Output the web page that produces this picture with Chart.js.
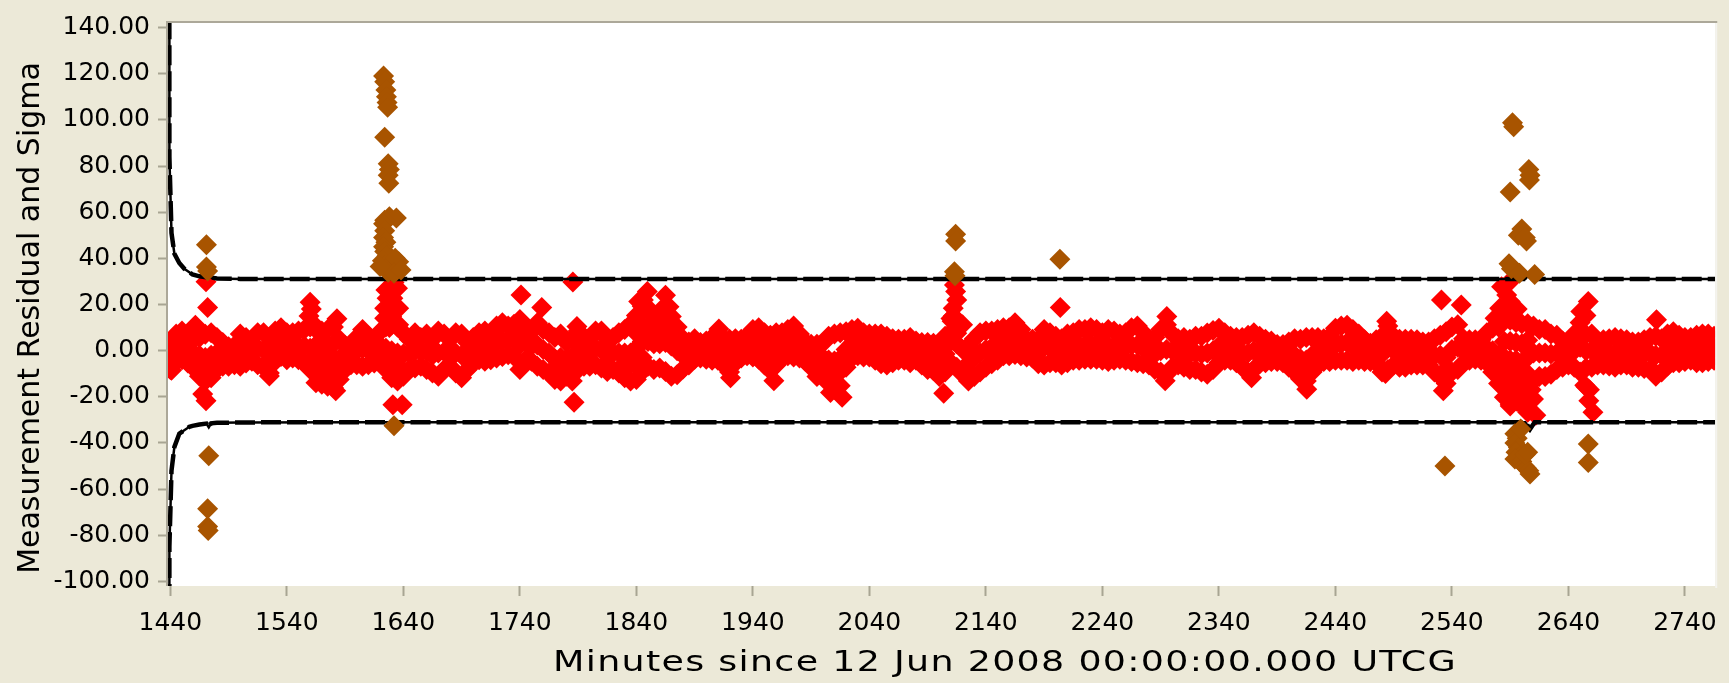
<!DOCTYPE html>
<html>
<head>
<meta charset="utf-8">
<script src="https://cdn.jsdelivr.net/npm/chart.js@4.4.1/dist/chart.umd.min.js"></script>
<style>
html,body{margin:0;padding:0;background:#ECE9D8;overflow:hidden;}
#wrap{position:relative;width:1729px;height:683px;}
</style>
</head>
<body>
<div id="wrap"><canvas id="c" width="1729" height="683"></canvas></div>
<script>
// ---------- axis ticks ----------
const xTickValues = [1440,1540,1640,1740,1840,1940,2040,2140,2240,2340,2440,2540,2640,2740];
const yTickValues = [-100,-80,-60,-40,-20,0,20,40,60,80,100,120,140];
const xTitle = "Minutes since 12 Jun 2008 00:00:00.000 UTCG";
const yTitle = "Measurement Residual and Sigma";

// ---------- residual band (red), read per 5-minute column ----------
const bandT = [
1440,1445,1450,1455,1460,1465,1470,1475,1480,1485,
1490,1495,1500,1505,1510,1515,1520,1525,1530,1535,
1540,1545,1550,1555,1560,1565,1570,1575,1580,1585,
1590,1595,1600,1605,1610,1615,1620,1625,1630,1635,
1640,1645,1650,1655,1660,1665,1670,1675,1680,1685,
1690,1695,1700,1705,1710,1715,1720,1725,1730,1735,
1740,1745,1750,1755,1760,1765,1770,1775,1780,1785,
1790,1795,1800,1805,1810,1815,1820,1825,1830,1835,
1840,1845,1850,1855,1860,1865,1870,1875,1880,1885,
1890,1895,1900,1905,1910,1915,1920,1925,1930,1935,
1940,1945,1950,1955,1960,1965,1970,1975,1980,1985,
1990,1995,2000,2005,2010,2015,2020,2025,2030,2035,
2040,2045,2050,2055,2060,2065,2070,2075,2080,2085,
2090,2095,2100,2105,2110,2115,2120,2125,2130,2135,
2140,2145,2150,2155,2160,2165,2170,2175,2180,2185,
2190,2195,2200,2205,2210,2215,2220,2225,2230,2235,
2240,2245,2250,2255,2260,2265,2270,2275,2280,2285,
2290,2295,2300,2305,2310,2315,2320,2325,2330,2335,
2340,2345,2350,2355,2360,2365,2370,2375,2380,2385,
2390,2395,2400,2405,2410,2415,2420,2425,2430,2435,
2440,2445,2450,2455,2460,2465,2470,2475,2480,2485,
2490,2495,2500,2505,2510,2515,2520,2525,2530,2535,
2540,2545,2550,2555,2560,2565,2570,2575,2580,2585,
2590,2595,2600,2605,2610,2615,2620,2625,2630,2635,
2640,2645,2650,2655,2660,2665,2670,2675,2680,2685,
2690,2695,2700,2705,2710,2715,2720,2725,2730,2735,
2740,2745,2750,2755,2760,2765];
const bandHi = [
3.5,7.2,8.5,5.7,4.9,5.7,7.1,7.8,5.7,3.5,
1.7,2.1,7.2,5.7,3.5,7.8,7.8,5.7,8.5,9.9,
7.8,7.8,8.5,9.2,10.2,9.2,8.5,9.2,10.2,4.9,
2.2,1.7,5.7,9.2,6.4,4.9,8.2,10.2,11.2,10.2,
7.8,4.9,7.8,5.7,7.2,4.9,8.5,7.2,4.9,7.8,
7.2,3.5,5.7,7.8,8.5,7.2,10.7,12.1,10.7,11.4,
13.5,10.7,8.5,12.1,9.2,7.8,5.7,7.2,3.5,5.2,
8.5,5.7,5.7,8.5,8.5,4.9,5.7,7.8,9.2,11.4,
15.2,19.2,17.2,14.8,13.5,17.7,14.8,10.2,5.2,3.7,
5.2,3.5,4.2,5.7,7.7,4.9,4.9,5.2,4.9,6.2,
9.2,9.9,7.8,6.7,7.8,7.8,9.2,10.7,7.2,3.7,
2.8,2.8,3.2,6.2,7.2,7.8,8.2,9.2,9.7,7.8,
7.2,7.2,7.2,6.2,5.2,4.9,4.9,5.7,4.2,3.5,
3.5,3.2,2.7,6.2,13.9,13.2,11.2,2.1,5.2,7.8,
8.5,8.5,9.2,9.9,9.9,12.1,9.2,4.9,4.9,4.9,
9.2,7.8,6.2,5.2,7.2,7.8,9.2,9.2,9.9,9.2,
7.8,9.2,8.5,7.2,7.8,9.9,10.7,7.8,4.9,5.7,
9.2,11.2,7.2,5.2,5.7,4.9,6.2,6.2,7.7,8.7,
9.7,7.8,6.2,5.7,5.7,6.7,7.8,6.2,4.9,4.2,
2.7,2.7,3.7,5.2,4.9,5.7,5.7,5.7,5.2,6.2,
9.7,10.7,11,9.2,7.2,4.7,3.2,4.7,6.2,10.7,
6.2,4.9,4.9,4.9,4.7,3.7,3.7,5.2,6.7,8.2,
10.2,11.2,5.2,4.7,4.7,4.7,7.8,9.7,10.2,13.2,
13.2,12.2,11.7,11.7,10.7,9.2,9.2,7.2,6.7,4.2,
3.7,7.2,12.2,15.2,7.2,4.2,4.7,5.2,5.7,5.2,
4.7,3.7,3.7,4.7,5.7,6.2,5.2,7.2,8.2,6.7,
5.7,5.7,6.7,7.2,7.2,6.2];
const bandMid = [
-2,1,2,0,-1,-2,-3,-2,-1,-1.5,
-2.5,-2,0,0,-0.5,1,0.5,-2,2,3.5,
2,2.5,2,2,1,-2,-3,-3,-3,-3.5,
-3,-2.5,0,1,0,-0.5,2,1,0,-1,
-1.5,-1.5,0,-0.5,-0.5,-2,-1,-0.5,-1,-1,
-2,-2.5,0,2,2,1.5,3.5,4.5,4.5,4.5,
2.5,3.5,2,2.5,0.5,-1,-3.5,-3,-3.5,-4,
0,-0.5,-0.5,1,0.5,-2,-1,-1,-1,-1,
1,4,4,3,3,3.5,2,0,-2,-1.5,
0.5,0,0.5,0.5,1.5,-0.5,-2,0,1,2,
3,3,0.5,-1,1,2,3.5,4,2,-0.5,
-2,-4,-3,-4,-4.5,-3.5,0.5,3,3.5,2.5,
2,1.5,0.5,0,0,0.5,0.5,0,0,-1.5,
-2,-2.5,-4,-1.5,4,3,0.5,-5.5,-3,-1,
0.5,1.5,2.5,3.5,3.5,5,3.5,1,1,-0.5,
1.5,1,0.5,-0.5,1,2,2.5,2.5,3,2.5,
1.5,2,2,1.5,2,2.5,2.5,1,-0.5,-1.5,
0,0.5,0,-0.5,-0.5,-1.5,-1,-1.5,-1,0,
2,1.5,1,0,-1,-1,0,0,0,0,
-1,-1.5,-2,-2,-3.5,-4,-2,0,0.5,0.5,
2.5,3,3.5,2,1.5,0,-1,-0.5,-1.5,1,
0,-1,-1,-0.5,-1,-1.5,-1.5,-2,-2,-3,
0.5,1.5,0,0.5,0.5,0,1,0,-2,-3,
-4,-4,-5,-3,-1,-1,-1,-1.5,-1,-1.5,
-1.5,0,1.5,0,0,-1,-0.5,-1,-1,-0.5,
-1,-2,-2,-1.5,-1,-2,-2,0,1.5,0.5,
0.5,1,1,1,1,1];
const bandLo = [
-8.2,-4.6,-3.9,-5.4,-7.5,-11.1,-13.2,-11.8,-8.2,-6.8,
-6.8,-6.1,-6.8,-5.4,-4.6,-6.1,-6.8,-9.7,-4.6,-2.5,
-3.9,-3.2,-3.9,-5.4,-8.2,-13.9,-14.6,-15.4,-16.1,-12.5,
-8.2,-6.1,-6.1,-6.8,-6.1,-5.4,-3.9,-8.2,-11.8,-13.2,
-11.1,-8.2,-7.5,-6.8,-8.2,-9.7,-11.1,-8.2,-6.8,-9.7,
-11.8,-8.2,-5.4,-3.9,-4.6,-3.9,-3.2,-2.5,-1.8,-2.5,
-8.2,-3.9,-4.6,-6.8,-8.2,-9.7,-12.5,-13.2,-11.1,-13.2,
-8.2,-6.8,-6.8,-6.1,-7.5,-9,-8.2,-9.7,-11.8,-13.2,
-12.5,-9,-6.8,-8.2,-7.5,-9,-11.1,-10.4,-7.9,-6.2,
-3.7,-3.2,-3.7,-4.2,-4.2,-6.2,-9.2,-5.2,-3.2,-2.2,
-2.7,-3.7,-6.2,-8.6,-6.2,-3.2,-2.2,-2.7,-3.2,-4.6,
-7.2,-11.2,-9.2,-14.2,-16.7,-15.2,-7.2,-3.2,-2.2,-2.7,
-2.7,-4.2,-5.7,-6.2,-5.2,-4.2,-4.2,-5.2,-4.2,-6.2,
-8.2,-8.6,-11.2,-9.2,-5.2,-7.2,-10.2,-13.2,-11.2,-9.2,
-7.2,-5.7,-4.2,-2.2,-2.2,-1.7,-2.2,-2.7,-3.2,-5.7,
-6.2,-5.2,-5.2,-6.2,-5.2,-4.2,-4.2,-3.7,-3.7,-3.7,
-4.2,-4.7,-4.2,-3.7,-4.2,-4.7,-5.2,-5.7,-6.2,-8.2,
-9.2,-10.2,-7.2,-6.2,-7.2,-8.2,-8.2,-9.2,-10.2,-8.2,
-5.2,-4.2,-4.2,-5.2,-7.2,-9.2,-8.2,-5.7,-5.2,-4.7,
-4.7,-5.2,-7.2,-9.2,-12.2,-13.2,-9.2,-6.2,-4.7,-4.7,
-4.2,-4.2,-4.2,-4.7,-4.2,-4.7,-4.7,-5.2,-9.2,-8.2,
-6.2,-7.2,-7.2,-6.2,-6.2,-6.2,-6.2,-9.2,-11.2,-14.2,
-9.2,-8.2,-5.2,-4.2,-3.7,-4.2,-5.2,-9.2,-14.2,-20.2,
-23.2,-21.2,-23.2,-19.2,-13.2,-11.2,-11.2,-10.2,-8.2,-7.2,
-6.2,-7.2,-9.2,-15.7,-7.2,-6.2,-6.2,-6.7,-7.2,-6.2,
-6.2,-7.2,-7.2,-7.7,-8.2,-11.1,-9.2,-6.7,-5.2,-5.2,
-4.7,-4.2,-5.2,-5.2,-4.7,-4.2];

// isolated red residuals, spikes and in-fill points [minute, value]
const redExtra = [
[1441,-8.5],[1461.5,11],[1467.8,-18.8],[1470.6,-21.7],[1470.6,29.9],[1472,18.7],[1525,-11],
[1582,-17.4],[1583,13.8],[1631,-23.4],[1639,-23.4],[1741,24.1],[1758.8,18.7],[1785.5,29.8],
[1789,10.5],[1786.5,-22.4],[1910.8,9.4],[1920.8,-11.7],[1958,-13.1],[2006.6,-18.1],[2016.6,-20.2],
[2103.8,-18.5],[2203.8,18.7],[2295.3,14.8],[2293.9,-13.1],[2368,-11.8],[2415.4,-16.7],[2484,12.7],
[2483,-9.9],[2531,22],[2532.6,-17.4],[2548,19.8],[2650.6,17],[2657,21.3],[2657.5,-21.7],[2661,-26.7],
[2715.6,13.4],[2715,-9.9],
[1560,21],[1561,18],[1559,15],[1562,12],
[1625,26.3],[1635,27],[1626,22.7],[1631,22.7],[1624,18.4],[1636,18.4],[1630,14.8],[1624,14],[1636,11.2],[1628,10],[1632,29.5],
[1842,21.3],[1849.4,25.6],[1865,24],[1853,17],[1862,18],[1868,19],[1846,22],
[2113,28.4],[2114,25.6],[2115,22],[2112,18.4],[2112,15],[2111,12.7],[2116,10],
[2582.6,27.7],[2587,24.1],[2590,21.3],[2581,18.4],[2577,14],[2585,15],[2589,29.5],[2596,18],
[2590,-24],[2596,-22],[2603,-24],[2605,-26.7],[2610,-21],[2608,-17],[2612,-28],[2598,-19],
[2654,-15],[2658,-17],
[1467,-7],[1472,-7.5],[1476,-6.5],
[1565,-8],[1570,-8.5],[1575,-9],[1580,-9.5],[1585,-7.5],[1565,2.5],[1570,2],[1575,2.5],[1580,3],
[1625,-4],[1630,-5.5],[1635,-6],[1740,7],[1772,-7.5],[1782,-8],
[1830,-5.5],[1835,-6],[1840,-6],[1845,-3],
[1840,7.5],[1845,11],[1850,10],[1855,8],[1860,7.5],[1865,9.5],[1870,7.5],
[1995,-7],[2005,-8.5],[2010,-10],[2015,-9],[2110,8],[2115,7.5],[2412,-8],[2535,-8],
[2580,-8],[2585,-9],[2585,-14],[2590,-10],[2590,-16],[2595,-9],[2595,-14.5],[2600,-11],[2600,-16.5],[2605,-10],[2605,-13],
[2585,4],[2590,4],[2595,3.5],[2600,3],[2605,4.5],
[2652,6],[2655,7],[2655,-7.5]
];

// rejected residuals (brown) [minute, value]
const rejected = [
[1471,45.9],[1471,36.3],[1472,34.5],[1473,-45.6],[1472,-68.5],[1472,-76.2],[1472.5,-78],
[1623,119],[1624,116.5],[1625,113],[1625.5,110],[1626,107.5],[1626.5,105.5],[1624,92.5],[1627,81],
[1628,78.5],[1627,76],[1627.5,72.5],[1628,58],[1634,57.5],[1624,56.5],[1623,55],[1624,52],[1623,49],
[1625,47],[1623,45],[1624,43],[1626,41],[1622,39],[1625,37],[1628,36],[1630,38],[1636,38.5],[1633,40],
[1627,34],[1632,33.5],[1620,36.5],[1638,35],[1632,-32.5],
[2114,50.5],[2114,47.5],[2113,34.2],[2113.5,32.5],[2203.5,39.6],[2534,-50],
[2592,98.8],[2593,97],[2590,68.8],[2606,78.5],[2607,76],[2606.5,74],[2600,52.7],[2597,50],[2603,49],
[2604,47.5],[2589,37.7],[2591,35.5],[2598,33.5],[2611,33],
[2594,-36],[2596,-38],[2594,-40],[2597,-42],[2595,-44],[2598,-46],[2594,-47],[2600,-48],[2602,-50],
[2604,-51],[2606,-52],[2607,-53.5],[2599,-34],[2603,-45],[2605,-44],
[2657,-40.5],[2657,-48.5]
];

// sigma envelope
const sigmaT    = [1439.1,1439.2,1441,1443.5,1447.7,1452,1456.3,1459,1465,1471,1473,1475,1480,1500,1600,1629,1632,1635,1700,1900,2100,2300,2500,2603,2607,2611,2700,2766];
const sigmaUp   = [200,84,51,42,38,35.5,34,33,32.2,31.8,33.2,31.7,31.3,31.1,31,31,33.5,31,31,31,31,31,31,31,33.5,31,31,31];
const sigmaDown = [-200,-85,-52,-41.7,-36,-34.5,-33,-32.6,-32,-31.6,-33.2,-31.5,-31.3,-31.1,-31,-31,-33.5,-31,-31,-31,-31,-31,-31,-31,-34,-31,-31,-31];

// ---------- build datasets ----------
const redPts = [];
bandT.forEach((t,i)=>{
  redPts.push({x:t,y:bandHi[i]},{x:t,y:bandMid[i]},{x:t,y:bandLo[i]});
});
redExtra.forEach(p=>redPts.push({x:p[0],y:p[1]}));
const brownPts = rejected.map(p=>({x:p[0],y:p[1]}));
const upPts = sigmaT.map((t,i)=>({x:t,y:sigmaUp[i]}));
const dnPts = sigmaT.map((t,i)=>({x:t,y:sigmaDown[i]}));

const FONT = "'DejaVu Sans', sans-serif";
const BG = '#ECE9D8';

const framePlugin = {
  id:'frame',
  beforeDraw(chart){
    const {ctx, chartArea:a} = chart;
    ctx.save();
    ctx.fillStyle = BG;
    ctx.fillRect(0,0,chart.width,chart.height);
    ctx.fillStyle = '#FFFFFF';
    ctx.fillRect(a.left,a.top,a.right-a.left,a.bottom-a.top);
    ctx.restore();
  },
  afterDraw(chart){
    const {ctx, chartArea:a} = chart;
    ctx.save();
    ctx.fillStyle = '#ACA899';
    ctx.fillRect(a.left-2,a.top-2,a.right-a.left+4,2);
    ctx.fillRect(a.left-2,a.top-2,2,a.bottom-a.top+2);
    ctx.fillStyle = '#F4F3EE';
    ctx.fillRect(a.right,a.top,2,a.bottom-a.top+2);
    // x title (wide bitmap-like lettering)
    ctx.fillStyle = '#000';
    ctx.textBaseline = 'middle';
    ctx.textAlign = 'left';
    ctx.font = '28px ' + FONT;
    try { ctx.letterSpacing = '1px'; } catch(e) {}
    const w = ctx.measureText(xTitle).width;
    ctx.save();
    ctx.translate(1005, 664);
    ctx.scale(1.3, 1);
    ctx.fillText(xTitle, -w/2, 0);
    ctx.restore();
    try { ctx.letterSpacing = '0px'; } catch(e) {}
    // y title
    ctx.font = '30px ' + FONT;
    ctx.textAlign = 'center';
    ctx.translate(31, 318);
    ctx.rotate(-Math.PI/2);
    ctx.fillText(yTitle, 0, 0);
    ctx.restore();
  }
};

const ptCommon = {pointStyle:'rectRot', pointRadius:10.5, pointBorderWidth:0, pointHoverRadius:10.5, clip:0};
const sigmaSolid = {showLine:true, borderColor:'#000', borderWidth:2.5, pointRadius:0, tension:0, order:1, clip:0};
const sigmaDash  = {showLine:true, borderColor:'#000', borderWidth:4.5, borderDash:[20,6], pointRadius:0, tension:0, order:1, clip:0};

new Chart(document.getElementById('c'), {
  type:'scatter',
  data:{datasets:[
    Object.assign({label:'rejected', data:brownPts, backgroundColor:'#A85400', pointBackgroundColor:'#A85400', order:0}, ptCommon),
    Object.assign({label:'sigma+', data:upPts}, sigmaSolid),
    Object.assign({label:'sigma+ marks', data:upPts}, sigmaDash),
    Object.assign({label:'sigma-', data:dnPts}, sigmaSolid),
    Object.assign({label:'sigma- marks', data:dnPts}, sigmaDash),
    Object.assign({label:'residual', data:redPts, backgroundColor:'#FF0000', pointBackgroundColor:'#FF0000', order:2}, ptCommon)
  ]},
  options:{
    responsive:false, devicePixelRatio:1, animation:false, events:[],
    layout:{padding:{top:18,right:12,left:0,bottom:0}},
    plugins:{legend:{display:false}, tooltip:{enabled:false}},
    scales:{
      x:{type:'linear', min:1438, max:2766,
        afterBuildTicks:s=>{s.ticks = xTickValues.map(v=>({value:v}));},
        afterFit:s=>{s.height = 97;},
        grid:{drawOnChartArea:false, drawTicks:true, tickLength:10, tickColor:'#A8A593', tickWidth:2},
        border:{display:false},
        ticks:{font:{family:FONT,size:25}, color:'#000', padding:12, maxRotation:0, autoSkip:false, callback:v=>String(v)}
      },
      y:{type:'linear', min:-102, max:142,
        afterBuildTicks:s=>{s.ticks = yTickValues.map(v=>({value:v}));},
        afterFit:s=>{s.width = 168;},
        grid:{drawOnChartArea:false, drawTicks:true, tickLength:10, tickColor:'#A8A593', tickWidth:2},
        border:{display:false},
        ticks:{font:{family:FONT,size:25}, color:'#000', padding:8, autoSkip:false, callback:v=>Number(v).toFixed(2)}
      }
    }
  },
  plugins:[framePlugin]
});
</script>
</body>
</html>
